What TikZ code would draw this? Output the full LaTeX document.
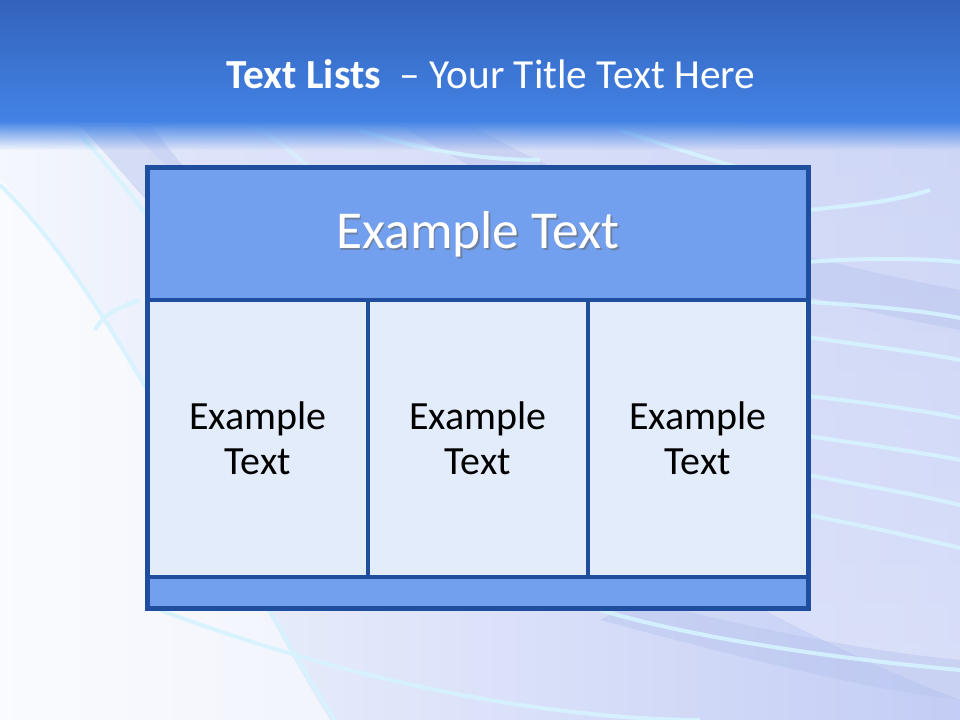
\documentclass[tikz,border=0pt]{standalone}
\usepackage{fontspec}
\setmainfont{Carlito}
\usetikzlibrary{fadings}
\definecolor{bordercol}{HTML}{1F4E9E}
\definecolor{hdrfill}{HTML}{72A0EE}
\definecolor{cellfill}{HTML}{E3ECFB}
\definecolor{bartop}{HTML}{3363BC}
\definecolor{barbot}{HTML}{4383E5}
\definecolor{bgleft}{HTML}{F4F7FD}
\definecolor{bgright}{HTML}{C3CDF5}
\definecolor{ringcol}{HTML}{D6F3FF}
\definecolor{bandcol}{HTML}{B8C4EE}
\tikzset{
  tblbox/.style={draw=bordercol, line width=2.4pt, inner sep=0pt},
  hdrbox/.style={tblbox, fill=hdrfill},
  cellbox/.style={tblbox, fill=cellfill, minimum width=165pt, minimum height=207.75pt},
  celltext/.style={font=\fontsize{30pt}{34pt}\selectfont, text=black, align=center},
  hdrtext/.style={font=\fontsize{40pt}{44pt}\selectfont},
  ring/.style={draw=ringcol, line width=3pt, opacity=0.9},
  band/.style={fill=bandcol, opacity=0.45}
}
\begin{document}
\begin{tikzpicture}[x=0.75pt,y=-0.75pt]
\useasboundingbox (0,0) rectangle (960,720);
% background
\shade[left color=bgleft, right color=bgright] (0,0) rectangle (960,720);
\shade[top color=bgright!70!white, bottom color=bgright!40!white, opacity=0.6]
  (120,120) .. controls (300,300) and (600,560) .. (960,700) -- (960,120) -- cycle;
% darker bands of the maze
\fill[band] (80,125) .. controls (200,260) and (330,420) .. (520,560)
  -- (560,540) .. controls (380,400) and (250,250) .. (150,125) -- cycle;
\fill[band] (400,125) .. controls (600,250) and (800,300) .. (960,330)
  -- (960,290) .. controls (800,260) and (620,210) .. (470,125) -- cycle;
\fill[band] (600,620) .. controls (750,660) and (870,690) .. (960,700)
  -- (960,660) .. controls (860,650) and (760,630) .. (640,600) -- cycle;
% white-ish left sweep
\fill[white, opacity=0.55] (0,180) .. controls (120,300) and (230,560) .. (330,720)
  -- (0,720) -- cycle;
% ring lines
\draw[ring] (0,185) .. controls (120,300) and (230,560) .. (335,720);
\draw[ring] (80,135) .. controls (140,200) and (180,260) .. (215,330);
\draw[ring] (140,300) .. controls (110,310) and (100,320) .. (95,330);
\draw[ring] (808,262) .. controls (860,258) and (920,258) .. (960,262);
\draw[ring] (808,302) .. controls (860,305) and (920,310) .. (960,318);
\draw[ring] (808,337) .. controls (860,345) and (920,352) .. (960,360);
\draw[ring] (808,396) .. controls (860,402) and (920,410) .. (960,418);
\draw[ring] (808,436) .. controls (860,444) and (920,452) .. (960,460);
\draw[ring] (808,475) .. controls (860,485) and (920,495) .. (960,505);
\draw[ring] (808,515) .. controls (860,525) and (920,538) .. (960,548);
\draw[ring] (808,210) .. controls (860,205) and (900,200) .. (930,190);
\draw[ring] (360,130) .. controls (420,150) and (480,160) .. (540,160);
\draw[ring] (620,130) .. controls (680,150) and (740,170) .. (808,185);
\draw[ring] (160,610) .. controls (400,700) and (600,720) .. (700,720);
\draw[ring] (600,610) .. controls (700,640) and (850,660) .. (960,670);
\draw[ring, opacity=0.6] (250,125) .. controls (280,140) and (300,160) .. (310,168);
% title bar
\shade[top color=bartop, bottom color=barbot] (0,0) rectangle (960,122);
\fill[barbot, path fading=south] (0,121) rectangle (960,150);
\node[text=white, font=\fontsize{31pt}{34pt}\selectfont, anchor=center] (title) at (491,74)
  {\textbf{Text Lists}\ \ – Your Title Text Here};
% table
\node[hdrbox, minimum width=495pt, minimum height=99pt] (hdr) at (478,234) {};
\node[cellbox] (c1) at (258,438.5) {};
\node[cellbox] (c2) at (478,438.5) {};
\node[cellbox] (c3) at (698,438.5) {};
\node[hdrbox, minimum width=495pt, minimum height=23.25pt] (ftr) at (478,592.5) {};
\draw[bordercol, line width=2.4pt, line join=miter] (hdr.north west) rectangle (ftr.south east);
% texts
\node[hdrtext, text=black!60, opacity=0.55] at ([shift={(1.5,2)}]hdr.center) {Example Text};
\node[hdrtext, text=white] (hdrt) at (hdr.center) {Example Text};
\node[celltext] (t1) at (c1.center) {Example\\Text};
\node[celltext] (t2) at (c2.center) {Example\\Text};
\node[celltext] (t3) at (c3.center) {Example\\Text};
\end{tikzpicture}
\end{document}
